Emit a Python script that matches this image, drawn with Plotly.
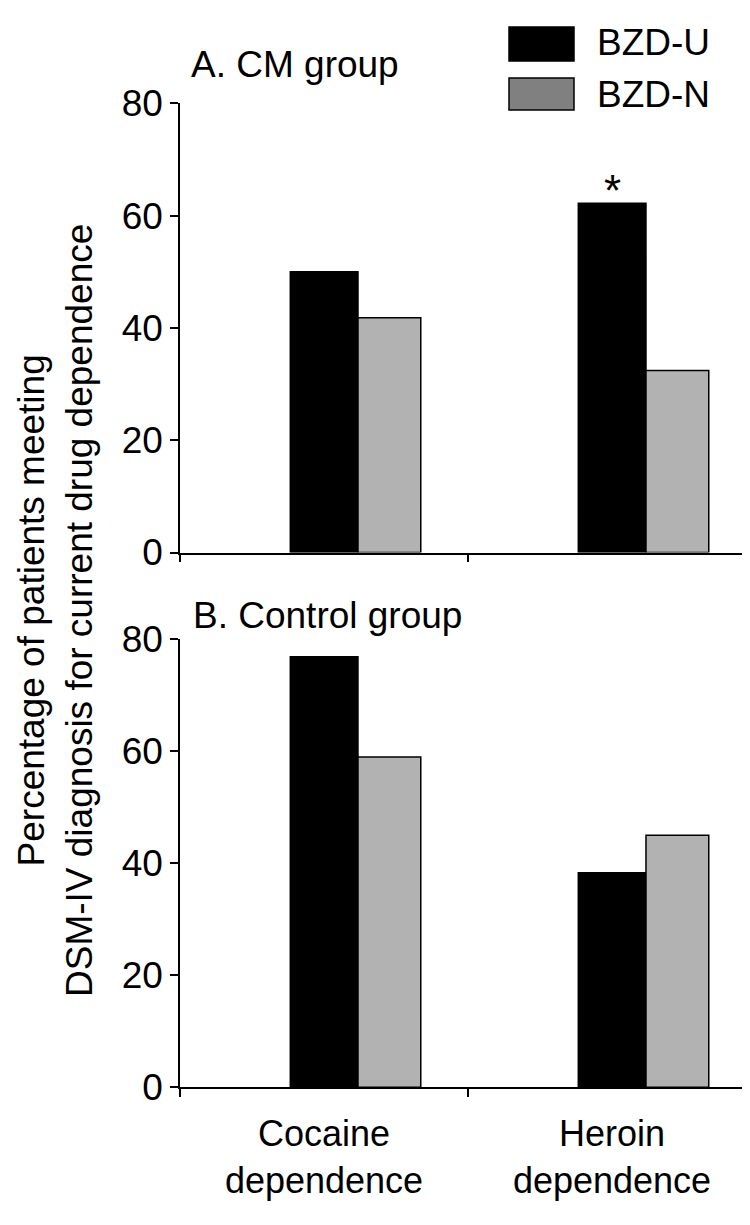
import plotly.graph_objects as go
from plotly.subplots import make_subplots

categories = ["Cocaine<br>dependence", "Heroin<br>dependence"]
series_names = ["BZD-U", "BZD-N"]
cm_bzd_u = [50, 62.2]
cm_bzd_n = [41.8, 32.4]
ctrl_bzd_u = [76.9, 38.3]
ctrl_bzd_n = [59.0, 45.0]
cm_marks = ["", "*"]
panel_titles = ["A. CM group", "B. Control group"]
y_title = "Percentage of patients meeting<br>DSM-IV diagnosis for current drug dependence"
y_ticks = [0, 20, 40, 60, 80]

W, H = 750, 1225
OFF = 8            # page body margin of the rendered html
AXIS_X = 180       # y-axis position on the page
L = AXIS_X - OFF
FONT = "Liberation Sans, Arial, sans-serif"
GRAY = "#b2b2b2"
LEG_GRAY = "#808080"
CAT_PX = 288.0

def px_x(p):
    return (p - OFF - L) / (W - L)

def px_y(p):
    return 1 - (p - OFF) / H

fig = make_subplots(rows=2, cols=1, shared_xaxes=False, vertical_spacing=0.0)

styles = {
    "BZD-U": dict(color="black", offset=-0.117, width=0.235),
    "BZD-N": dict(color=GRAY, offset=0.118, width=0.218),
}

panels = [(cm_bzd_u, cm_bzd_n), (ctrl_bzd_u, ctrl_bzd_n)]
for r, (u, n) in enumerate(panels, start=1):
    for name, vals in [("BZD-U", u), ("BZD-N", n)]:
        st = styles[name]
        fig.add_trace(go.Bar(
            x=categories, y=vals, name=name,
            marker=dict(color=st["color"], line=dict(color="black", width=1.5)),
            offset=st["offset"], width=st["width"],
            showlegend=False,
        ), row=r, col=1)

# significance mark above bars
for cat, val, mark in zip(categories, cm_bzd_u, cm_marks):
    if mark:
        fig.add_annotation(text=mark, x=cat, y=val, xref="x", yref="y",
                           xanchor="center", yanchor="bottom", yshift=-14,
                           showarrow=False,
                           font=dict(family=FONT, size=44, color="black"))

fig.update_layout(
    width=W, height=H, barmode="overlay",
    margin=dict(l=L, r=0, t=0, b=0, autoexpand=False),
    paper_bgcolor="white", plot_bgcolor="white",
    font=dict(family=FONT, color="black"),
    showlegend=False,
)

fig.update_layout(
    yaxis=dict(domain=[px_y(552.5), px_y(103.3)]),
    yaxis2=dict(domain=[px_y(1087.3), px_y(639.3)]),
)

for ax in ["yaxis", "yaxis2"]:
    fig.layout[ax].update(
        range=[0, 80], tickvals=y_ticks, ticks="outside", ticklen=8,
        tickwidth=1.5, tickcolor="black", showline=True, linecolor="black",
        linewidth=1.5, showgrid=False, zeroline=False, automargin=False,
        tickfont=dict(family=FONT, size=37, color="black"),
    )
for ax, show in [("xaxis", False), ("xaxis2", True)]:
    fig.layout[ax].update(
        range=[-0.5, -0.5 + (W - L) / CAT_PX], tickson="boundaries",
        ticks="outside", ticklen=8, tickwidth=1.5, tickcolor="black",
        showline=True, linecolor="black", linewidth=1.5, showgrid=False,
        zeroline=False, showticklabels=show, automargin=False,
        ticklabelstandoff=14,
        tickfont=dict(family=FONT, size=36, color="black"),
    )

# panel titles
fig.add_annotation(text=panel_titles[0], xref="paper", yref="paper",
                   x=px_x(189), y=px_y(64.5), xanchor="left", yanchor="middle",
                   showarrow=False, font=dict(family=FONT, size=37, color="black"))
fig.add_annotation(text=panel_titles[1], xref="paper", yref="paper",
                   x=px_x(191), y=px_y(615.5), xanchor="left", yanchor="middle",
                   showarrow=False, font=dict(family=FONT, size=37, color="black"))

# y title
fig.add_annotation(text=y_title, xref="paper", yref="paper",
                   x=px_x(55), y=px_y(611), xanchor="center", yanchor="middle",
                   textangle=-90, showarrow=False,
                   font=dict(family=FONT, size=37, color="black"))

# manual legend
leg_items = [(series_names[0], "black", 27, 61, 42), (series_names[1], LEG_GRAY, 78, 110, 95)]
for name, col, t, b, cy in leg_items:
    fig.add_shape(type="rect", xref="paper", yref="paper",
                  x0=px_x(509), x1=px_x(574), y0=px_y(b), y1=px_y(t),
                  fillcolor=col, line=dict(color="black", width=1.5))
    fig.add_annotation(text=name, xref="paper", yref="paper",
                       x=px_x(595), y=px_y(cy), xanchor="left", yanchor="middle",
                       showarrow=False, font=dict(family=FONT, size=37, color="black"))

fig.write_html("out.html")
